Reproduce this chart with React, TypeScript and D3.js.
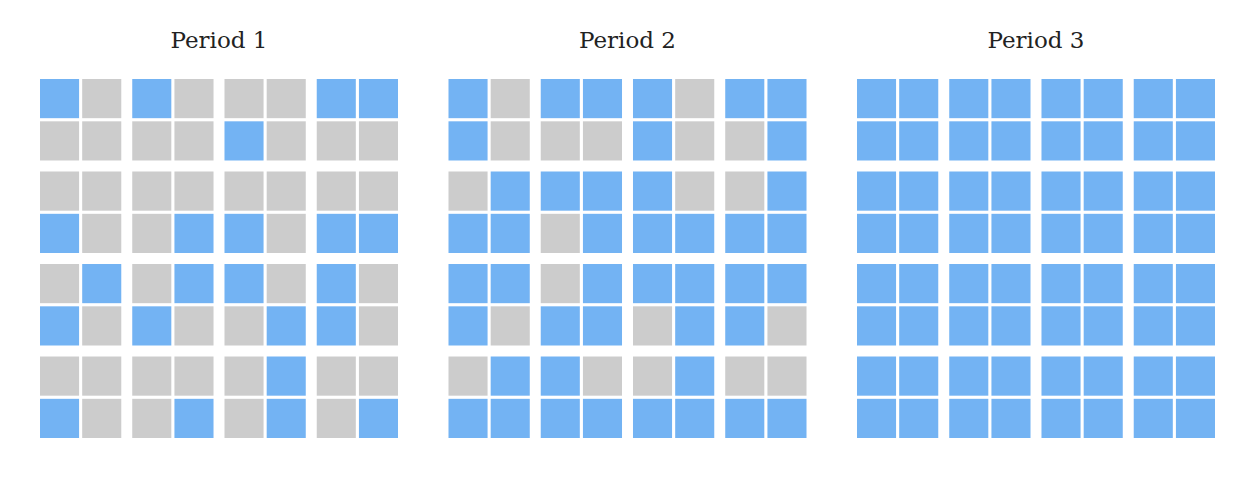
import React from 'react';
import * as d3 from 'd3';

// each panel: 4x4 groups, each group a 2x2 block given as TL TR BL BR (1 = filled)
const periods = ['Period 1', 'Period 2', 'Period 3'];

const period1 = [
  ['1000', '1000', '0010', '1100'],
  ['0010', '0001', '0010', '0011'],
  ['0110', '0110', '1001', '1010'],
  ['0010', '0001', '0101', '0001'],
];

const period2 = [
  ['1010', '1100', '1010', '1101'],
  ['0111', '1101', '1011', '0111'],
  ['1110', '0111', '1101', '1110'],
  ['0111', '1011', '0111', '0011'],
];

const period3 = [
  ['1111', '1111', '1111', '1111'],
  ['1111', '1111', '1111', '1111'],
  ['1111', '1111', '1111', '1111'],
  ['1111', '1111', '1111', '1111'],
];

const panels = [period1, period2, period3];

const blue = '#73b3f3';
const gray = '#cccccc';

const width = 1248;
const height = 480;

const App = () => {
  const px = d3.scaleBand().domain(periods).range([40, 1215]).paddingInner(0.1236);
  const gIdx = [0, 1, 2, 3];
  const gx = d3.scaleBand<number>().domain(gIdx).range([0, px.bandwidth()]).paddingInner(0.119);
  const gy = d3.scaleBand<number>().domain(gIdx).range([79, 438]).paddingInner(0.119);
  const cx = d3.scaleBand<number>().domain([0, 1]).range([0, gx.bandwidth()]).paddingInner(0.074);
  const cy = d3.scaleBand<number>().domain([0, 1]).range([0, gy.bandwidth()]).paddingInner(0.074);

  return (
    <svg width={width} height={height} style={{ position: 'absolute', left: 0, top: 0 }}>
      <rect width={width} height={height} fill="#fff" />
      {periods.map((p, pi) => {
        const x0 = px(p)!;
        return (
          <g key={p}>
            <text
              x={x0 + px.bandwidth() / 2}
              y={48}
              textAnchor="middle"
              fontFamily="DejaVu Serif"
              fontSize={23}
              fill="#222"
            >
              {p}
            </text>
            {panels[pi].map((row, r) =>
              row.map((code, c) =>
                code.split('').map((v, k) => (
                  <rect
                    key={`${r}-${c}-${k}`}
                    x={x0 + gx(c)! + cx(k % 2)!}
                    y={gy(r)! + cy(Math.floor(k / 2))!}
                    width={cx.bandwidth()}
                    height={cy.bandwidth()}
                    fill={v === '1' ? blue : gray}
                  />
                ))
              )
            )}
          </g>
        );
      })}
    </svg>
  );
};

export default App;
